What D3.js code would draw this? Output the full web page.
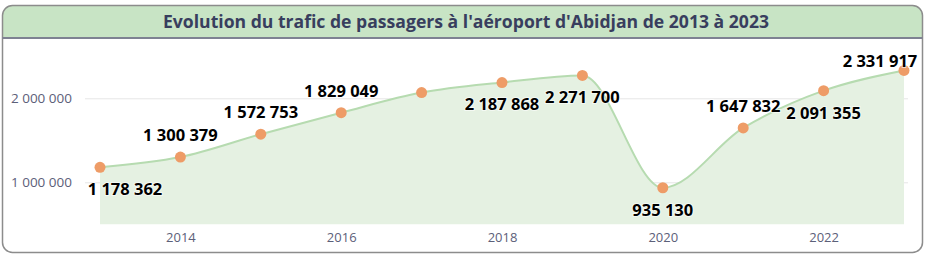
<!DOCTYPE html>
<html>
<head>
<meta charset="utf-8">
<script src="https://cdn.jsdelivr.net/npm/d3@7"></script>
<style>
  html, body { margin: 0; padding: 0; background: #fff; }
  svg { display: block; }
</style>
</head>
<body>
<svg id="chart" width="928" height="256"></svg>
<script>
// ---- Data ----
const title = "Evolution du trafic de passagers à l'aéroport d'Abidjan de 2013 à 2023";
const years = [2013, 2014, 2015, 2016, 2017, 2018, 2019, 2020, 2021, 2022, 2023];
const passengers = [1178362, 1300379, 1572753, 1829049, 2068000, 2187868, 2271700, 935130, 1647832, 2091355, 2331917];
const showLabel = [true, true, true, true, false, true, true, true, true, true, true];
const labelPlacement = ["below-right", "above", "above", "above", "none", "below", "below", "below", "above", "below", "above-left"];
const xTickValues = [2014, 2016, 2018, 2020, 2022];
const yTickValues = [1000000, 2000000];

const fmt = v => d3.format(",")(v).replace(/,/g, " ");

const svg = d3.select("#chart");

// ---- Frame ----
const fx = 2.5, fy = 5.5, fw = 920, fh = 247, r = 10, bandBottom = 38;
svg.append("path")
  .attr("d", `M${fx},${bandBottom} V${fy + r} Q${fx},${fy} ${fx + r},${fy} H${fx + fw - r} Q${fx + fw},${fy} ${fx + fw},${fy + r} V${bandBottom} Z`)
  .attr("fill", "#c8e4c5");
svg.append("rect")
  .attr("x", fx).attr("y", fy).attr("width", fw).attr("height", fh)
  .attr("rx", r).attr("ry", r)
  .attr("fill", "none").attr("stroke", "#8c8c8c").attr("stroke-width", 1.5);
svg.append("line")
  .attr("x1", fx).attr("x2", fx + fw).attr("y1", bandBottom).attr("y2", bandBottom)
  .attr("stroke", "#7e8292").attr("stroke-width", 2);
svg.append("text")
  .attr("x", 466).attr("y", 28)
  .attr("text-anchor", "middle")
  .attr("font-family", "'Open Sans', sans-serif")
  .attr("font-weight", "bold")
  .attr("font-size", 17.6)
  .attr("fill", "#383e5e")
  .text(title);

// ---- Scales ----
const x = d3.scaleLinear().domain([2013, 2023]).range([100, 904]);
const y = d3.scaleLinear().domain([500000, 2600000]).range([224.3, 47.9]);

// ---- Grid / y axis ----
const gridLeft = 85, gridRight = 908;
const yAxis = svg.append("g")
  .attr("transform", `translate(${gridLeft},0)`)
  .call(d3.axisLeft(y).tickValues(yTickValues).tickFormat(fmt)
    .tickSize(-(gridRight - gridLeft)).tickPadding(13));
yAxis.select(".domain").remove();
yAxis.selectAll(".tick line").attr("stroke", "#e6e6e6").attr("stroke-width", 1);
yAxis.selectAll(".tick text")
  .attr("font-family", "'Open Sans', sans-serif")
  .attr("font-size", 13.5)
  .attr("fill", "#5c6079");

// ---- x axis ----
const xAxis = svg.append("g")
  .attr("transform", `translate(0,${y(500000)})`)
  .call(d3.axisBottom(x).tickValues(xTickValues).tickFormat(d3.format("d"))
    .tickSize(0).tickPadding(8));
xAxis.select(".domain").remove();
xAxis.selectAll(".tick text")
  .attr("font-family", "'Open Sans', sans-serif")
  .attr("font-size", 13)
  .attr("fill", "#5c6079");

// ---- Area + line ----
const data = years.map((yr, i) => ({ yr, v: passengers[i], show: showLabel[i], place: labelPlacement[i] }));
const area = d3.area().x(d => x(d.yr)).y0(y(500000)).y1(d => y(d.v)).curve(d3.curveMonotoneX);
const line = d3.line().x(d => x(d.yr)).y(d => y(d.v)).curve(d3.curveMonotoneX);

svg.append("path").datum(data).attr("d", area).attr("fill", "#e5f1e2");
svg.append("path").datum(data).attr("d", line)
  .attr("fill", "none").attr("stroke", "#b6dbb0").attr("stroke-width", 2);

// ---- Markers ----
svg.append("g").selectAll("circle").data(data).join("circle")
  .attr("cx", d => x(d.yr)).attr("cy", d => y(d.v)).attr("r", 5.5)
  .attr("fill", "#ee9c67");

// ---- Labels ----
const offsets = {
  "above": [0, -22],
  "below": [0, 22],
  "below-right": [25, 22],
  "above-left": [-24, -9]
};
svg.append("g").selectAll("text").data(data.filter(d => d.show)).join("text")
  .attr("x", d => x(d.yr) + offsets[d.place][0])
  .attr("y", d => y(d.v) + offsets[d.place][1])
  .attr("dy", "0.36em")
  .attr("text-anchor", "middle")
  .attr("font-family", "'Open Sans', sans-serif")
  .attr("font-weight", "bold")
  .attr("font-size", 16.5)
  .attr("fill", "#000")
  .attr("stroke", "#fff")
  .attr("stroke-width", 2)
  .attr("stroke-opacity", 0.6)
  .attr("paint-order", "stroke")
  .text(d => fmt(d.v));
</script>
</body>
</html>
